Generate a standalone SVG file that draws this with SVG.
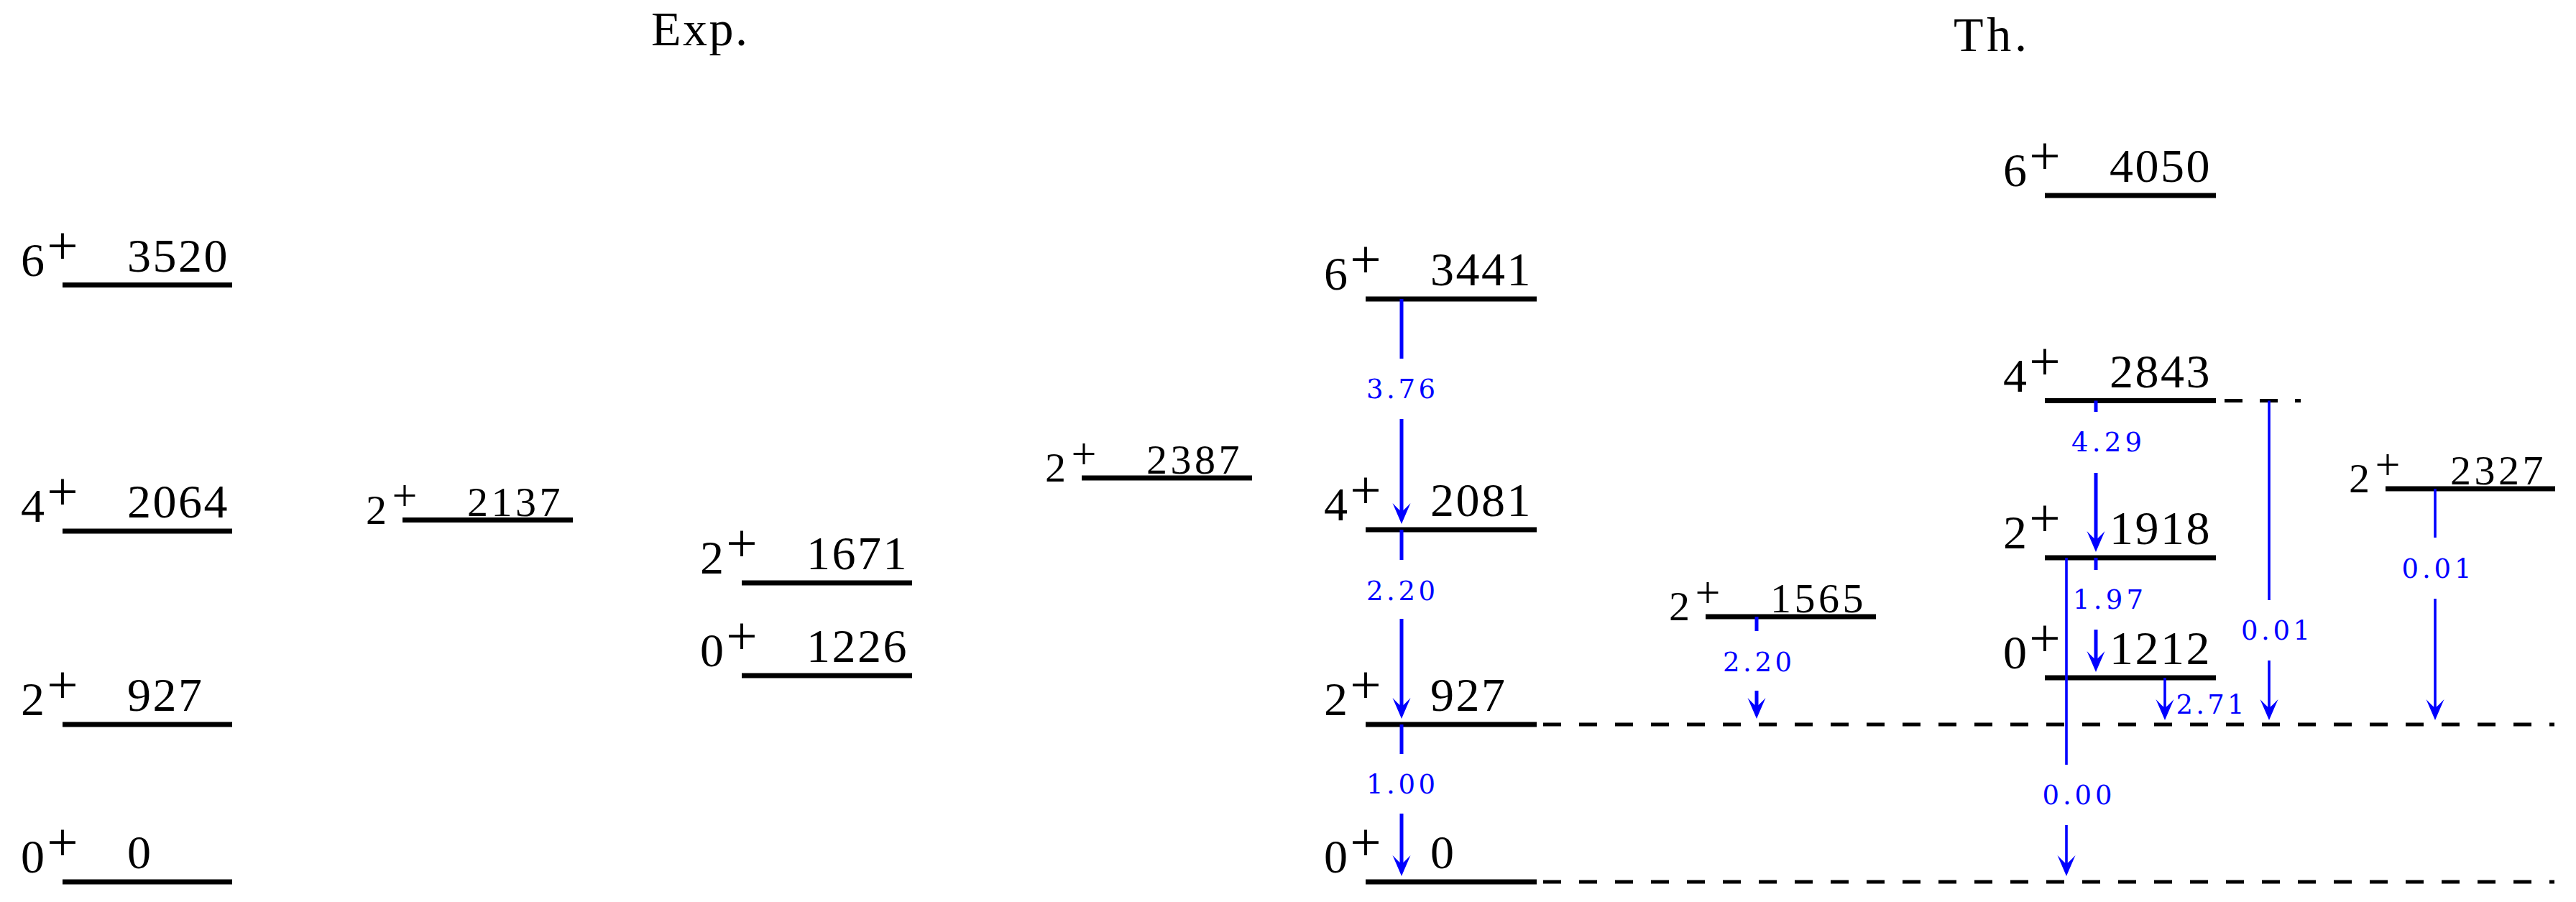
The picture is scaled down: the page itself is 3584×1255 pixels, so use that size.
<svg xmlns="http://www.w3.org/2000/svg" width="3584" height="1255" viewBox="0 0 3584 1255">
<style>
.lv{stroke:#000;stroke-width:7;fill:none}
.ds{stroke:#000;stroke-width:5;fill:none;stroke-dasharray:25 25}
.t{font-family:"Liberation Serif","Times New Roman",serif;fill:#000}
.sp{font-size:66px}
.pl{font-size:77px;text-anchor:middle}
.en{font-size:66px;letter-spacing:2.5px}
.ssp{font-size:58px}
.spl{font-size:62px;text-anchor:middle}
.sen{font-size:58px;letter-spacing:4.5px}
.ti{font-size:68px}
.tr{stroke:#0000ff;stroke-width:5;fill:none}
.thin{stroke-width:3.6}
.lb{font-family:"DejaVu Serif",serif;font-size:37px;fill:#0000ff;text-anchor:middle}
</style>
<defs>
<marker id="ah" markerUnits="userSpaceOnUse" viewBox="-31 -14 33 28" markerWidth="33" markerHeight="28" refX="-15" refY="0" orient="auto">
<path d="M0,0 L-29,-12.5 Q-20,-4 -17,0 Q-20,4 -29,12.5 Z" fill="#0000ff"/>
</marker>
</defs>
<rect width="3584" height="1255" fill="#fff"/>

<g id="titles">
<text class="t ti" x="906" y="63" textLength="134" lengthAdjust="spacing">Exp.</text>
<text class="t ti" x="2718" y="71" textLength="102" lengthAdjust="spacing">Th.</text>
</g>

<g id="exp-6-3520">
<line class="lv" x1="87" y1="396.5" x2="323" y2="396.5"/>
<text class="t sp" x="29" y="383.5">6</text><text class="t pl" x="87" y="366.5">+</text><text class="t en" x="177" y="377.5">3520</text>
</g>
<g id="exp-4-2064">
<line class="lv" x1="87" y1="739" x2="323" y2="739"/>
<text class="t sp" x="29" y="726">4</text><text class="t pl" x="87" y="709">+</text><text class="t en" x="177" y="720">2064</text>
</g>
<g id="exp-2-927">
<line class="lv" x1="87" y1="1008" x2="323" y2="1008"/>
<text class="t sp" x="29" y="995">2</text><text class="t pl" x="87" y="978">+</text><text class="t en" x="177" y="989">927</text>
</g>
<g id="exp-0-0">
<line class="lv" x1="87" y1="1227" x2="323" y2="1227"/>
<text class="t sp" x="29" y="1214">0</text><text class="t pl" x="87" y="1197">+</text><text class="t en" x="177" y="1208">0</text>
</g>
<g id="exp-2-2137">
<line class="lv" x1="560" y1="723.5" x2="797" y2="723.5"/>
<text class="t ssp" x="509" y="728.5">2</text><text class="t spl" x="563" y="710">+</text><text class="t sen" x="650" y="717.5">2137</text>
</g>
<g id="exp-2-1671">
<line class="lv" x1="1032" y1="811" x2="1269" y2="811"/>
<text class="t sp" x="974" y="798">2</text><text class="t pl" x="1032" y="781">+</text><text class="t en" x="1122" y="792">1671</text>
</g>
<g id="exp-0-1226">
<line class="lv" x1="1032" y1="940" x2="1269" y2="940"/>
<text class="t sp" x="974" y="927">0</text><text class="t pl" x="1032" y="910">+</text><text class="t en" x="1122" y="921">1226</text>
</g>
<g id="exp-2-2387">
<line class="lv" x1="1505" y1="665" x2="1742" y2="665"/>
<text class="t ssp" x="1454" y="670">2</text><text class="t spl" x="1508" y="651.5">+</text><text class="t sen" x="1595" y="659">2387</text>
</g>

<g id="th-6-3441">
<line class="lv" x1="1900" y1="416" x2="2138" y2="416"/>
<text class="t sp" x="1842" y="403">6</text><text class="t pl" x="1900" y="386">+</text><text class="t en" x="1990" y="397">3441</text>
</g>
<g id="th-4-2081">
<line class="lv" x1="1900" y1="737" x2="2138" y2="737"/>
<text class="t sp" x="1842" y="724">4</text><text class="t pl" x="1900" y="707">+</text><text class="t en" x="1990" y="718">2081</text>
</g>
<g id="th-2-927">
<line class="lv" x1="1900" y1="1008" x2="2138" y2="1008"/>
<text class="t sp" x="1842" y="995">2</text><text class="t pl" x="1900" y="978">+</text><text class="t en" x="1990" y="989">927</text>
</g>
<g id="th-0-0">
<line class="lv" x1="1900" y1="1227" x2="2138" y2="1227"/>
<text class="t sp" x="1842" y="1214">0</text><text class="t pl" x="1900" y="1197">+</text><text class="t en" x="1990" y="1208">0</text>
</g>
<g id="th-2-1565">
<line class="lv" x1="2373" y1="858" x2="2610" y2="858"/>
<text class="t ssp" x="2322" y="863">2</text><text class="t spl" x="2376" y="844.5">+</text><text class="t sen" x="2463" y="852">1565</text>
</g>
<g id="th-6-4050">
<line class="lv" x1="2845" y1="272" x2="3083" y2="272"/>
<text class="t sp" x="2787" y="259">6</text><text class="t pl" x="2845" y="242">+</text><text class="t en" x="2935" y="253">4050</text>
</g>
<g id="th-4-2843">
<line class="lv" x1="2845" y1="557.5" x2="3083" y2="557.5"/>
<text class="t sp" x="2787" y="544.5">4</text><text class="t pl" x="2845" y="527.5">+</text><text class="t en" x="2935" y="538.5">2843</text>
</g>
<g id="th-2-1918">
<line class="lv" x1="2845" y1="776" x2="3083" y2="776"/>
<text class="t sp" x="2787" y="763">2</text><text class="t pl" x="2845" y="746">+</text><text class="t en" x="2935" y="757">1918</text>
</g>
<g id="th-0-1212">
<line class="lv" x1="2845" y1="943" x2="3083" y2="943"/>
<text class="t sp" x="2787" y="930">0</text><text class="t pl" x="2845" y="913">+</text><text class="t en" x="2935" y="924">1212</text>
</g>
<g id="th-2-2327">
<line class="lv" x1="3319" y1="680" x2="3555" y2="680"/>
<text class="t ssp" x="3268" y="685">2</text><text class="t spl" x="3322" y="666.5">+</text><text class="t sen" x="3409" y="674">2327</text>
</g>

<g id="guides">
<line class="ds" x1="2147" y1="1008" x2="3554" y2="1008"/>
<line class="ds" x1="2147" y1="1227" x2="3554" y2="1227"/>
<line class="ds" x1="3095" y1="557.5" x2="3201" y2="557.5" style="stroke-dasharray:25 24"/>
</g>

<g id="connectors">
<line class="tr" x1="1950" y1="416" x2="1950" y2="499"/>
<line class="tr" x1="1950" y1="583" x2="1950" y2="714" marker-end="url(#ah)"/>
<text class="lb" x="1949" y="554" textLength="96" lengthAdjust="spacing">3.76</text>

<line class="tr" x1="1950" y1="737" x2="1950" y2="779"/>
<line class="tr" x1="1950" y1="861" x2="1950" y2="985" marker-end="url(#ah)"/>
<text class="lb" x="1949" y="835" textLength="96" lengthAdjust="spacing">2.20</text>

<line class="tr" x1="1950" y1="1008" x2="1950" y2="1049"/>
<line class="tr" x1="1950" y1="1132" x2="1950" y2="1204" marker-end="url(#ah)"/>
<text class="lb" x="1949" y="1104" textLength="96" lengthAdjust="spacing">1.00</text>

<line class="tr" x1="2444" y1="858" x2="2444" y2="878"/>
<line class="tr" x1="2444" y1="961" x2="2444" y2="985" marker-end="url(#ah)"/>
<text class="lb" x="2445" y="934" textLength="96" lengthAdjust="spacing">2.20</text>

<line class="tr" x1="2916" y1="557.5" x2="2916" y2="573"/>
<line class="tr" x1="2916" y1="658" x2="2916" y2="753" marker-end="url(#ah)"/>
<text class="lb" x="2931" y="628" textLength="98" lengthAdjust="spacing">4.29</text>

<line class="tr" x1="2916" y1="776" x2="2916" y2="793"/>
<line class="tr" x1="2916" y1="876" x2="2916" y2="920" marker-end="url(#ah)"/>
<text class="lb" x="2933" y="847" textLength="98" lengthAdjust="spacing">1.97</text>

<line class="tr thin" x1="2875" y1="776" x2="2875" y2="1064"/>
<line class="tr thin" x1="2875" y1="1148" x2="2875" y2="1204" marker-end="url(#ah)"/>
<text class="lb" x="2890" y="1119" textLength="97" lengthAdjust="spacing">0.00</text>

<line class="tr thin" x1="3012" y1="943" x2="3012" y2="987" marker-end="url(#ah)"/>
<text class="lb" x="3075" y="993" textLength="95" lengthAdjust="spacing">2.71</text>

<line class="tr thin" x1="3157" y1="557.5" x2="3157" y2="835"/>
<line class="tr thin" x1="3157" y1="919" x2="3157" y2="987" marker-end="url(#ah)"/>
<text class="lb" x="3166" y="890" textLength="96" lengthAdjust="spacing">0.01</text>

<line class="tr thin" x1="3388" y1="680" x2="3388" y2="748"/>
<line class="tr thin" x1="3388" y1="833" x2="3388" y2="987" marker-end="url(#ah)"/>
<text class="lb" x="3390" y="804" textLength="97" lengthAdjust="spacing">0.01</text>
</g>
</svg>
